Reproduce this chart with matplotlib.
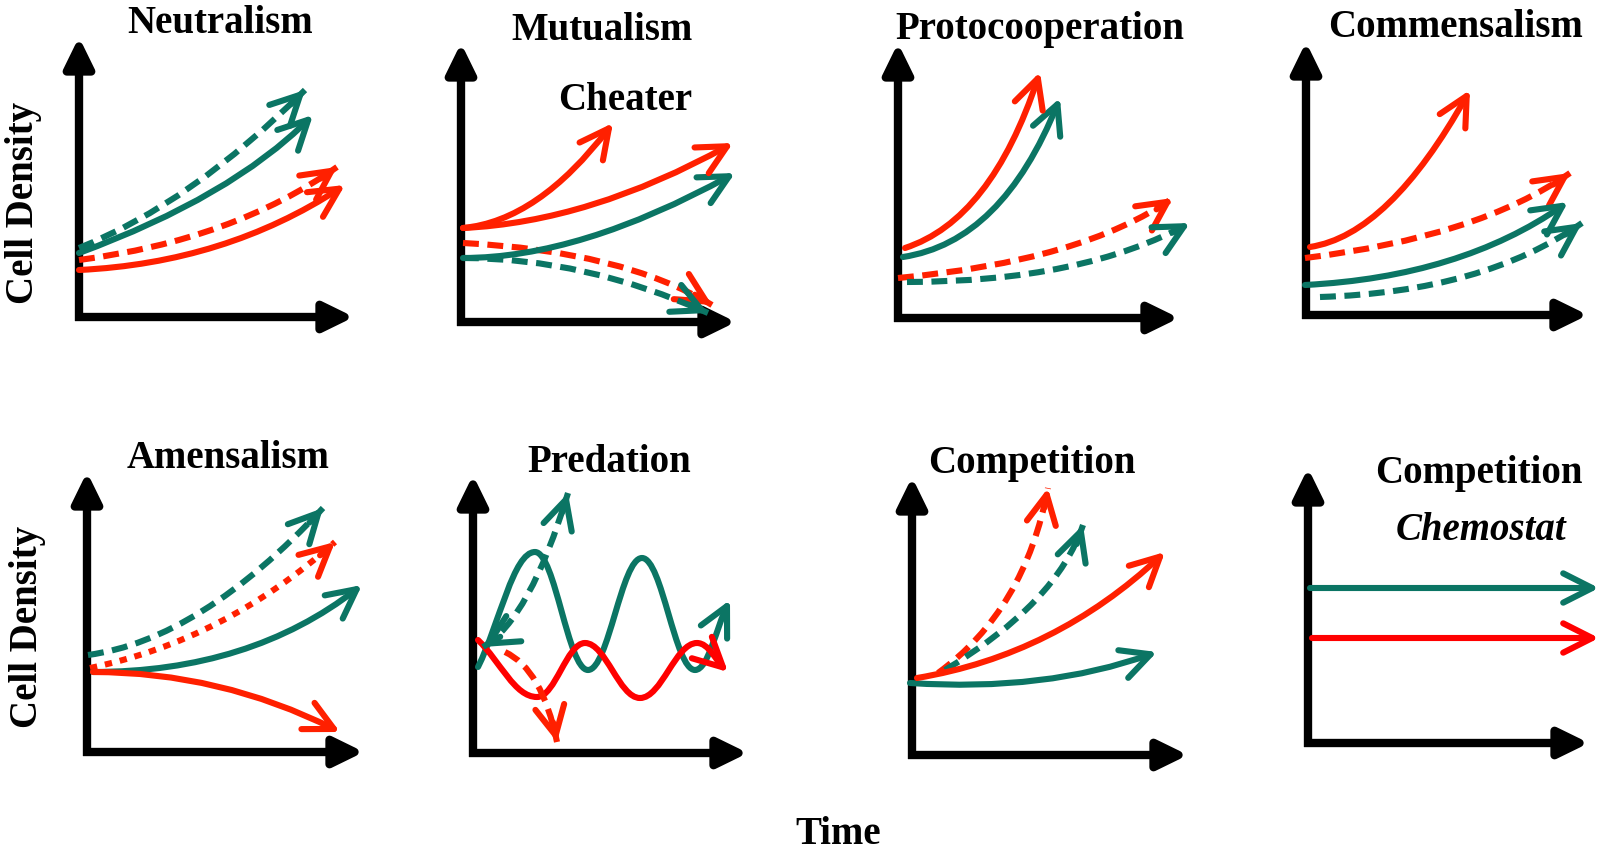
import matplotlib
matplotlib.use('Agg')
import matplotlib.pyplot as plt
from matplotlib.patches import FancyArrowPatch
from matplotlib.path import Path
import numpy as np

FW, FH = 1598, 857
TEAL = '#0B7564'
RED = '#FF2000'
RED2 = '#FF0000'

# each curve: (start, bezier control, tip) in panel units (time, density)
neut_teal_dash = [(0, 69), (113, 114), (226, 227)]
neut_teal = [(0, 64), (152, 120), (234, 202)]
neut_red_dash = [(0, 57), (154, 77), (258, 150)]
neut_red = [(0, 47), (146, 54), (266, 132)]

mutu_red = [(2, 94), (129, 100), (272, 179)]
mutu_cheater = [(2, 94), (77, 101), (152, 199)]
mutu_red_dash = [(2, 79), (161, 71), (251, 17)]
mutu_teal = [(2, 64), (119, 64), (274, 149)]
mutu_teal_dash = [(2, 64), (124, 64), (247, 9)]

proto_red = [(7, 70), (93, 98), (142, 246)]
proto_teal = [(5, 61), (104, 76), (162, 220)]
proto_red_dash = [(0, 40), (184, 57), (275, 120)]
proto_teal_dash = [(9, 36), (184, 36), (292, 95)]

comm_red = [(4, 68), (83, 80), (164, 225)]
comm_red_dash = [(-1, 57), (172, 78), (264, 142)]
comm_teal = [(-1, 30), (154, 38), (262, 113)]
comm_teal_dash = [(14, 18), (177, 23), (276, 92)]

amen_teal_dash = [(1, 97), (113, 112), (236, 244)]
amen_red_dot = [(3, 84), (138, 112), (248, 210)]
amen_teal = [(6, 80), (163, 80), (275, 167)]
amen_red = [(6, 80), (133, 80), (253, 20)]

# predation oscillations: start, extremes, tip
pred_teal = [(5, 86), (62, 201), (115, 83), (169, 195), (222, 83), (257, 153)]
pred_red = [(5, 113), (64, 56), (112, 110), (167, 55), (224, 110), (255, 81)]
pred_teal_dash = [(10, 106), (57, 134), (95, 260)]
pred_red_dash = [(32, 101), (69, 84), (84, 11)]

comp_red_dash = [(26, 82), (113, 145), (136, 267)]
comp_teal_dash = [(33, 85), (145, 152), (171, 230)]
comp_red = [(5, 77), (143, 100), (253, 203)]
comp_teal = [(-2, 72), (133, 63), (245, 103)]

chem_teal = [(2, 155), (291, 155)]
chem_red = [(4, 105), (291, 105)]

titles = ['Neutralism', 'Mutualism', 'Protocooperation', 'Commensalism',
          'Amensalism', 'Predation', 'Competition', 'Competition']

# panel origin (px) and axis lengths
panels = [(79, 317, 269, 275), (461, 322, 269, 274), (898, 318, 275, 270),
          (1306, 315, 276, 268), (87, 752, 271, 275), (473, 753, 269, 273),
          (912, 755, 270, 273), (1308, 743, 275, 270)]
title_pos = [(220, 33), (602, 40), (1040, 39), (1455, 37),
             (228, 468), (609, 472), (1032, 473), (1479, 483)]

LW = 4.4
HEAD = ',head_length=0.95,head_width=0.48'
MS = 22
DASH = (0, (2.6, 1.4))
DOT = (0, (1.2, 1.3))

fig = plt.figure(figsize=(FW / 100, FH / 100), dpi=100)


def head(ax, a, b, color):
    a = np.array(a, float); b = np.array(b, float)
    d = (b - a) / np.hypot(*(b - a)) * 20
    ax.add_patch(FancyArrowPatch(tuple(b - d), tuple(b), arrowstyle='->' + HEAD,
                                 mutation_scale=MS, lw=LW, color=color, shrinkA=0, shrinkB=0,
                                 capstyle='round', joinstyle='round', clip_on=False, zorder=3))


def draw(ax, verts, codes, color, ls='-', both=False):
    path = Path(verts, codes)
    if ls == '-':
        style = ('<->' if both else '->') + HEAD
        ax.add_patch(FancyArrowPatch(path=path, arrowstyle=style, mutation_scale=MS, lw=LW,
                                     color=color, capstyle='round', joinstyle='round',
                                     clip_on=False, zorder=3))
    else:
        ax.add_patch(FancyArrowPatch(path=path, arrowstyle='-', lw=LW, color=color,
                                     linestyle=ls, capstyle='butt', clip_on=False, zorder=3))
        head(ax, verts[-2], verts[-1], color)
        if both:
            head(ax, verts[1], verts[0], color)


def quad(ax, pts, color, ls='-', both=False):
    if len(pts) == 2:
        codes = [Path.MOVETO, Path.LINETO]
    else:
        codes = [Path.MOVETO, Path.CURVE3, Path.CURVE3]
    draw(ax, pts, codes, color, ls, both)


def wave(ax, pts, color, k=0.38):
    verts = [pts[0]]
    codes = [Path.MOVETO]
    n = len(pts)
    for i in range(n - 1):
        (x0, y0), (x1, y1) = pts[i], pts[i + 1]
        dx = x1 - x0
        c1 = (x0 + k * dx, y0 + k * (y1 - y0)) if i == 0 else (x0 + k * dx, y0)
        c2 = (x1 - k * dx, y1 - k * (y1 - y0)) if i == n - 2 else (x1 - k * dx, y1)
        verts += [c1, c2, (x1, y1)]
        codes += [Path.CURVE4] * 3
    draw(ax, verts, codes, color)


axes = []
for (ox, oy, W, H) in panels:
    ax = fig.add_axes([ox / FW, (FH - oy) / FH, W / FW, H / FH])
    ax.set_xlim(0, W)
    ax.set_ylim(0, H)
    ax.axis('off')
    kw = dict(arrowstyle='-|>,head_length=0.9,head_width=0.44', mutation_scale=20,
              lw=6, color='k', shrinkA=0, shrinkB=0, clip_on=False, zorder=1,
              capstyle='butt')
    ax.add_patch(FancyArrowPatch((0, -4), (0, H + 5), **kw))
    ax.add_patch(FancyArrowPatch((-4, 0), (W + 6, 0), **kw))
    axes.append(ax)

a1, a2, a3, a4, a5, a6, a7, a8 = axes

quad(a1, neut_teal_dash, TEAL, DASH)
quad(a1, neut_teal, TEAL)
quad(a1, neut_red_dash, RED, DASH)
quad(a1, neut_red, RED)

quad(a2, mutu_red_dash, RED, DASH)
quad(a2, mutu_teal_dash, TEAL, DASH)
quad(a2, mutu_teal, TEAL)
quad(a2, mutu_red, RED)
quad(a2, mutu_cheater, RED)

quad(a3, proto_red_dash, RED, DASH)
quad(a3, proto_teal_dash, TEAL, DASH)
quad(a3, proto_teal, TEAL)
quad(a3, proto_red, RED)

quad(a4, comm_red_dash, RED, DASH)
quad(a4, comm_teal_dash, TEAL, DASH)
quad(a4, comm_teal, TEAL)
quad(a4, comm_red, RED)

quad(a5, amen_teal_dash, TEAL, DASH)
quad(a5, amen_red_dot, RED, DOT)
quad(a5, amen_teal, TEAL)
quad(a5, amen_red, RED)

wave(a6, pred_teal, TEAL)
wave(a6, pred_red, RED2)
quad(a6, pred_teal_dash, TEAL, DASH, both=True)
quad(a6, pred_red_dash, RED, DASH)

quad(a7, comp_red_dash, RED, DASH)
quad(a7, comp_teal_dash, TEAL, DASH)
quad(a7, comp_teal, TEAL)
quad(a7, comp_red, RED)

quad(a8, chem_teal, TEAL)
quad(a8, chem_red, RED2)

tkw = dict(fontsize=28, family='Liberation Serif', weight='bold', ha='center', va='baseline')
for t, (x, y) in zip(titles, title_pos):
    fig.text(x / FW, 1 - y / FH, t, **tkw)
fig.text(625 / FW, 1 - 110 / FH, 'Cheater', **tkw)
fig.text(1481 / FW, 1 - 540 / FH, 'Chemostat', style='italic', **tkw)

lkw = dict(fontsize=28, family='Liberation Serif', weight='bold', ha='center', va='center')
fig.text(24 / FW, 1 - 203 / FH, 'Cell Density', rotation=90, **lkw)
fig.text(28 / FW, 1 - 627 / FH, 'Cell Density', rotation=90, **lkw)
fig.text(838 / FW, 1 - 834 / FH, 'Time', **lkw)

fig.savefig('out.png', dpi=100)
